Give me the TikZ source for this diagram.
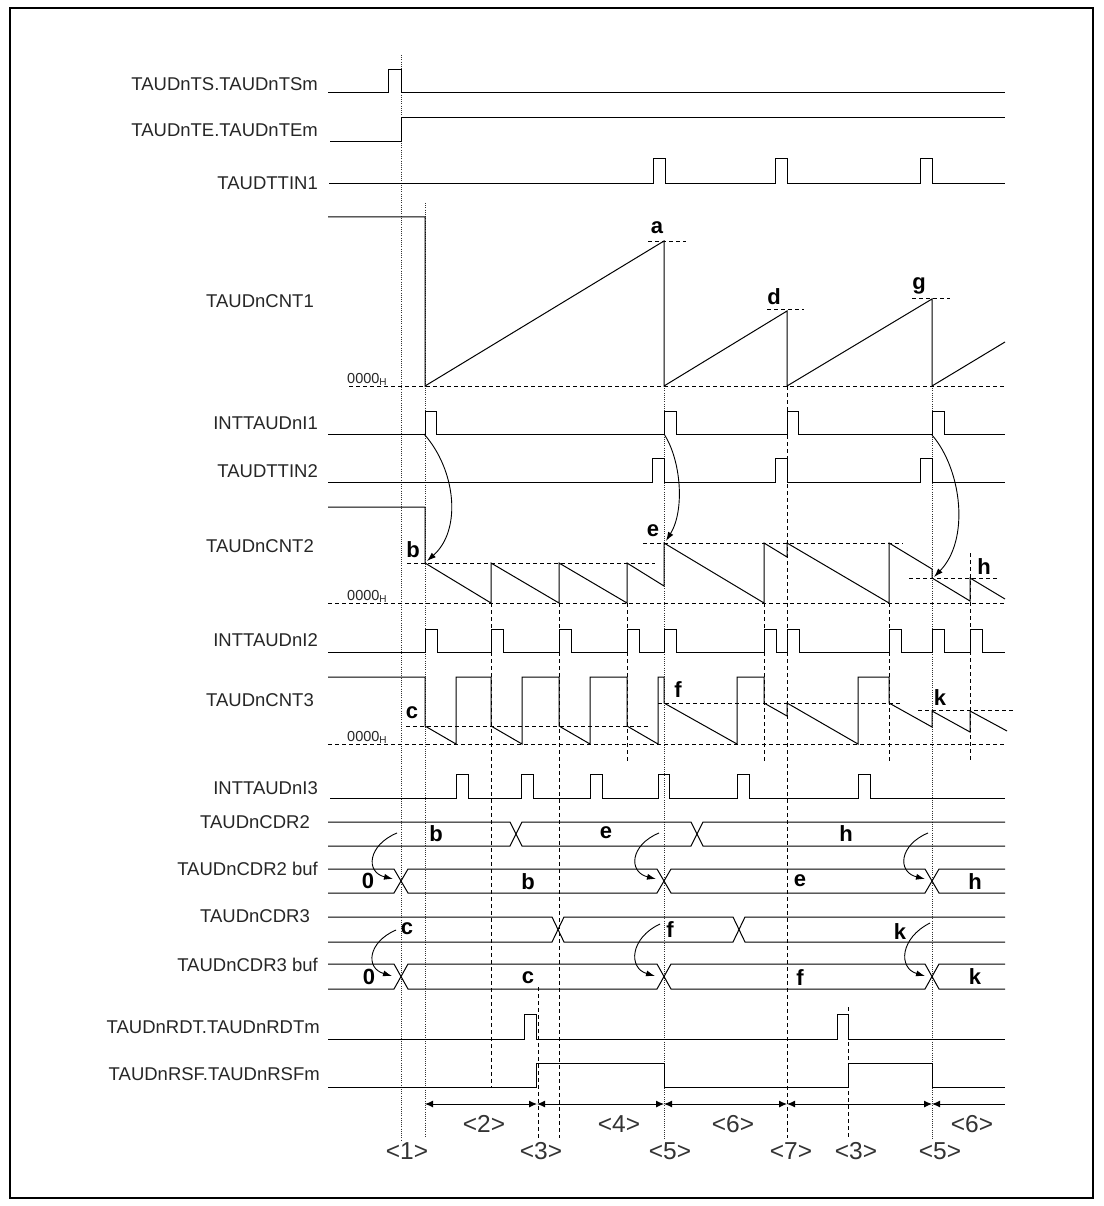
\documentclass[tikz,border=0pt]{standalone}
\usepackage{fontspec}
\setmainfont{Liberation Sans}
\usetikzlibrary{arrows.meta}
\begin{document}
\begin{tikzpicture}[x=1pt,y=-1pt,
  sig/.style={line width=1pt,line join=miter},
  dsh/.style={line width=0.8pt,dash pattern=on 4pt off 3pt},
  dtt/.style={line width=0.8pt,dash pattern=on 1pt off 1.2pt,black!80},
  lbl/.style={anchor=east,inner sep=0pt,font=\fontsize{18.5}{20}\selectfont,text=black!85},
  let/.style={inner sep=0pt,font=\fontsize{22}{24}\selectfont\bfseries},
  zero/.style={anchor=west,inner sep=0pt,font=\fontsize{14.5}{16}\selectfont,text=black!85},
  num/.style={inner sep=0pt,font=\fontsize{24.5}{26}\selectfont,text=black!80},
  carr/.style={line width=0.9pt,-{Latex[length=9pt,width=6pt]}},
  dim/.style={line width=1pt,{Latex[length=8pt,width=7pt]}-{Latex[length=8pt,width=7pt]}}
]
\useasboundingbox (0,0) rectangle (1103,1206);
\draw[line width=2pt] (10,8) rectangle (1093,1198);

% ---------- reference lines ----------
\draw[dtt] (401,55) -- (401,1140);
\draw[dtt] (425,203) -- (425,1138);
\draw[dtt] (664,386) -- (664,1140);
\draw[dtt] (932,386) -- (932,1140);
\draw[dsh] (491,603) -- (491,1087);
\draw[dsh] (559,603) -- (559,1138);
\draw[dsh] (627,603) -- (627,763);
\draw[dsh] (764,603) -- (764,763);
\draw[dsh] (787,386) -- (787,1138);
\draw[dsh] (889,603) -- (889,763);
\draw[dsh] (970,553) -- (970,760);
\draw[dsh] (538,987) -- (538,1138);
\draw[dsh] (848,1007) -- (848,1138);

% ---------- labels on the left ----------
\node[lbl] (lTS) at (318,84) {TAUDnTS.TAUDnTSm};
\node[lbl] (lTE) at (318,130) {TAUDnTE.TAUDnTEm};
\node[lbl] (lT1) at (318,183) {TAUDTTIN1};
\node[lbl] (lC1) at (314,301) {TAUDnCNT1};
\node[lbl] (lI1) at (318,423) {INTTAUDnI1};
\node[lbl] (lT2) at (318,471) {TAUDTTIN2};
\node[lbl] (lC2) at (314,546) {TAUDnCNT2};
\node[lbl] (lI2) at (318,640) {INTTAUDnI2};
\node[lbl] (lC3) at (314,700) {TAUDnCNT3};
\node[lbl] (lI3) at (318,788) {INTTAUDnI3};
\node[lbl] (lD2) at (310,822) {TAUDnCDR2};
\node[lbl] (lD2b) at (318,869) {TAUDnCDR2 buf};
\node[lbl] (lD3) at (310,916) {TAUDnCDR3};
\node[lbl] (lD3b) at (318,965) {TAUDnCDR3 buf};
\node[lbl] (lRDT) at (320,1027) {TAUDnRDT.TAUDnRDTm};
\node[lbl] (lRSF) at (320,1074) {TAUDnRSF.TAUDnRSFm};

% ---------- TS / TE / TTIN1 ----------
\draw[sig] (328,93) -- (388,93) -- (388,70) -- (401,70) -- (401,93) -- (1005,93);
\draw[sig] (330,142) -- (401,142) -- (401,118) -- (1005,118);
\draw[sig] (329,184) -- (653,184) -- ++(0,-25) -- ++(12,0) -- ++(0,25)
  -- (775,184) -- ++(0,-25) -- ++(12,0) -- ++(0,25)
  -- (920,184) -- ++(0,-25) -- ++(12,0) -- ++(0,25) -- (1005,184);

% ---------- CNT1 ----------
\draw[dsh] (349,386) -- (1005,386);
\node[zero] (z1) at (347,379) {0000\raisebox{-2pt}{\fontsize{10}{10}\selectfont H}};
\draw[sig] (328,217) -- (425,217) -- (425,386) -- (664,241) -- (664,386) -- (787,311)
  -- (787,386) -- (932,299) -- (932,386) -- (1005,342);
\draw[dsh] (648,241) -- (686,241);
\draw[dsh] (767,309) -- (804,309);
\draw[dsh] (912,298) -- (950,298);
\node[let] (la) at (657,228) {a};
\node[let] (ld) at (774,297) {d};
\node[let] (lg) at (919,286) {g};

% ---------- INTTAUDnI1 / TTIN2 ----------
\draw[sig] (328,434) -- (425,434) -- ++(0,-23) -- ++(11,0) -- ++(0,23)
  -- (664,434) -- ++(0,-23) -- ++(12,0) -- ++(0,23)
  -- (787,434) -- ++(0,-23) -- ++(11,0) -- ++(0,23)
  -- (932,434) -- ++(0,-23) -- ++(12,0) -- ++(0,23) -- (1005,434);
\draw[sig] (328,482) -- (652,482) -- ++(0,-24) -- ++(12,0) -- ++(0,24)
  -- (775,482) -- ++(0,-24) -- ++(12,0) -- ++(0,24)
  -- (920,482) -- ++(0,-24) -- ++(12,0) -- ++(0,24) -- (1005,482);

% ---------- CNT2 ----------
\draw[dsh] (328,603) -- (1005,603);
\node[zero] (z2) at (347,596) {0000\raisebox{-2pt}{\fontsize{10}{10}\selectfont H}};
\draw[sig] (328,507) -- (425,507) -- (425,563) -- (491,603) -- (491,563) -- (559,603)
  -- (559,563) -- (627,603) -- (627,563) -- (664,586) -- (664,543) -- (764,603)
  -- (764,543) -- (787,557) -- (787,543) -- (889,603) -- (889,543) -- (932,569)
  -- (932,578) -- (970,601) -- (970,578) -- (1005,599);
\draw[dsh] (407,563) -- (655,563);
\draw[dsh] (643,543) -- (903,543);
\draw[dsh] (909,578) -- (997,578);
\node[let] (lb) at (413,550) {b};
\node[let] (le) at (653,531) {e};
\node[let] (lh) at (984,567) {h};
\coordinate (i1a) at (424,434);
\coordinate (i1b) at (664,434);
\coordinate (i1c) at (932,435);
\coordinate (c2b) at (427,561);
\coordinate (c2e) at (666,541);
\coordinate (c2h) at (934,577);
\draw[carr] (i1a) .. controls (456,470) and (462,530) .. (c2b);
\draw[carr] (i1b) .. controls (681,460) and (685,510) .. (c2e);
\draw[carr] (i1c) .. controls (962,470) and (970,540) .. (c2h);

% ---------- INTTAUDnI2 ----------
\draw[sig] (328,652) -- (425,652) -- ++(0,-23) -- ++(12,0) -- ++(0,23)
  -- (491,652) -- ++(0,-23) -- ++(12,0) -- ++(0,23)
  -- (559,652) -- ++(0,-23) -- ++(12,0) -- ++(0,23)
  -- (627,652) -- ++(0,-23) -- ++(12,0) -- ++(0,23)
  -- (664,652) -- ++(0,-23) -- ++(12,0) -- ++(0,23)
  -- (764,652) -- ++(0,-23) -- ++(12,0) -- ++(0,23)
  -- (787,652) -- ++(0,-23) -- ++(12,0) -- ++(0,23)
  -- (889,652) -- ++(0,-23) -- ++(12,0) -- ++(0,23)
  -- (932,652) -- ++(0,-23) -- ++(12,0) -- ++(0,23)
  -- (970,652) -- ++(0,-23) -- ++(12,0) -- ++(0,23) -- (1005,652);

% ---------- CNT3 ----------
\draw[dsh] (328,744) -- (1005,744);
\node[zero] (z3) at (347,737) {0000\raisebox{-2pt}{\fontsize{10}{10}\selectfont H}};
\draw[sig] (328,677) -- (425,677) -- (425,726) -- (456,744) -- (456,677) -- (491,677)
  -- (491,726) -- (522,744) -- (522,677) -- (559,677) -- (559,726) -- (590,744)
  -- (590,677) -- (627,677) -- (627,726) -- (658,744) -- (658,677) -- (664,677)
  -- (664,703) -- (737,744) -- (737,677) -- (764,677) -- (764,703) -- (787,716)
  -- (787,703) -- (858,744) -- (858,677) -- (889,677) -- (889,703) -- (932,727)
  -- (932,711) -- (970,732) -- (970,711) -- (1007,731);
\draw[dsh] (406,726) -- (648,726);
\draw[dsh] (658,703) -- (900,703);
\draw[dsh] (918,710) -- (1013,710);
\node[let] (lc) at (412,713) {c};
\node[let] (lf) at (678,690) {f};
\node[let] (lk) at (940,698) {k};

% ---------- INTTAUDnI3 ----------
\draw[sig] (330,798) -- (456,798) -- ++(0,-24) -- ++(12,0) -- ++(0,24)
  -- (521,798) -- ++(0,-24) -- ++(12,0) -- ++(0,24)
  -- (590,798) -- ++(0,-24) -- ++(12,0) -- ++(0,24)
  -- (658,798) -- ++(0,-24) -- ++(11,0) -- ++(0,24)
  -- (737,798) -- ++(0,-24) -- ++(12,0) -- ++(0,24)
  -- (858,798) -- ++(0,-24) -- ++(12,0) -- ++(0,24) -- (1005,798);

% ---------- buses ----------
\draw[sig] (328,822) -- (510,822) -- (522,846) -- (691,846) -- (703,822) -- (1005,822);
\draw[sig] (328,846) -- (510,846) -- (522,822) -- (691,822) -- (703,846) -- (1005,846);
\draw[sig] (328,869) -- (394,869) -- (408,893) -- (657,893) -- (671,869) -- (925,869) -- (939,893) -- (1005,893);
\draw[sig] (328,893) -- (394,893) -- (408,869) -- (657,869) -- (671,893) -- (925,893) -- (939,869) -- (1005,869);
\draw[sig] (328,917) -- (552,917) -- (564,942) -- (733,942) -- (745,917) -- (1005,917);
\draw[sig] (328,942) -- (552,942) -- (564,917) -- (733,917) -- (745,942) -- (1005,942);
\draw[sig] (328,964) -- (394,964) -- (408,989) -- (657,989) -- (671,964) -- (925,964) -- (939,989) -- (1005,989);
\draw[sig] (328,989) -- (394,989) -- (408,964) -- (657,964) -- (671,989) -- (925,989) -- (939,964) -- (1005,964);

\node[let] (d2b) at (436,834) {b};
\node[let] (d2e) at (606,833) {e};
\node[let] (d2h) at (846,834) {h};
\node[let] (b2o) at (368,881) {0};
\node[let] (b2b) at (528,882) {b};
\node[let] (b2e) at (800,881) {e};
\node[let] (b2h) at (975,882) {h};
\node[let] (d3c) at (407,929) {c};
\node[let] (d3f) at (670,930) {f};
\node[let] (d3k) at (900,932) {k};
\node[let] (b3o) at (369,977) {0};
\node[let] (b3c) at (528,978) {c};
\node[let] (b3f) at (800,978) {f};
\node[let] (b3k) at (975,977) {k};

\coordinate (s1) at (397,833);
\coordinate (t1) at (393,879);
\coordinate (s2) at (659,833);
\coordinate (t2) at (656,879);
\coordinate (s3) at (928,833);
\coordinate (t3) at (925,879);
\draw[carr] (s1) .. controls (368,845) and (365,872) .. (t1);
\draw[carr] (s2) .. controls (630,845) and (628,872) .. (t2);
\draw[carr] (s3) .. controls (899,845) and (897,872) .. (t3);
\coordinate (s4) at (396,930);
\coordinate (t4) at (392,976);
\coordinate (s5) at (660,924);
\coordinate (t5) at (655,976);
\coordinate (s6) at (930,923);
\coordinate (t6) at (925,976);
\draw[carr] (s4) .. controls (368,942) and (365,968) .. (t4);
\draw[carr] (s5) .. controls (630,938) and (628,968) .. (t5);
\draw[carr] (s6) .. controls (900,938) and (898,968) .. (t6);

% ---------- RDT / RSF ----------
\draw[sig] (328,1039) -- (524,1039) -- ++(0,-25) -- ++(12,0) -- ++(0,25)
  -- (837,1039) -- ++(0,-25) -- ++(11,0) -- ++(0,25) -- (1005,1039);
\draw[sig] (328,1087) -- (536,1087) -- (536,1063) -- (664,1063) -- (664,1087)
  -- (848,1087) -- (848,1063) -- (932,1063) -- (932,1087) -- (1005,1087);

% ---------- dimension arrows ----------
\coordinate (m1) at (425,1104);
\coordinate (m2) at (537,1104);
\coordinate (m3) at (664,1104);
\coordinate (m4) at (787,1104);
\coordinate (m5) at (932,1104);
\coordinate (m6) at (1005,1104);
\draw[dim] (m1) -- (m2);
\draw[dim] (m2) -- (m3);
\draw[dim] (m3) -- (m4);
\draw[dim] (m4) -- (m5);
\draw[line width=1pt,{Latex[length=8pt,width=7pt]}-] (m5) -- (m6);
\node[num] (n2) at (484,1124) {<2>};
\node[num] (n4) at (619,1124) {<4>};
\node[num] (n6a) at (733,1124) {<6>};
\node[num] (n6b) at (972,1124) {<6>};
\node[num] (p1) at (407,1151) {<1>};
\node[num] (p3a) at (541,1151) {<3>};
\node[num] (p5a) at (670,1151) {<5>};
\node[num] (p7) at (791,1151) {<7>};
\node[num] (p3b) at (856,1151) {<3>};
\node[num] (p5b) at (940,1151) {<5>};
\end{tikzpicture}
\end{document}
